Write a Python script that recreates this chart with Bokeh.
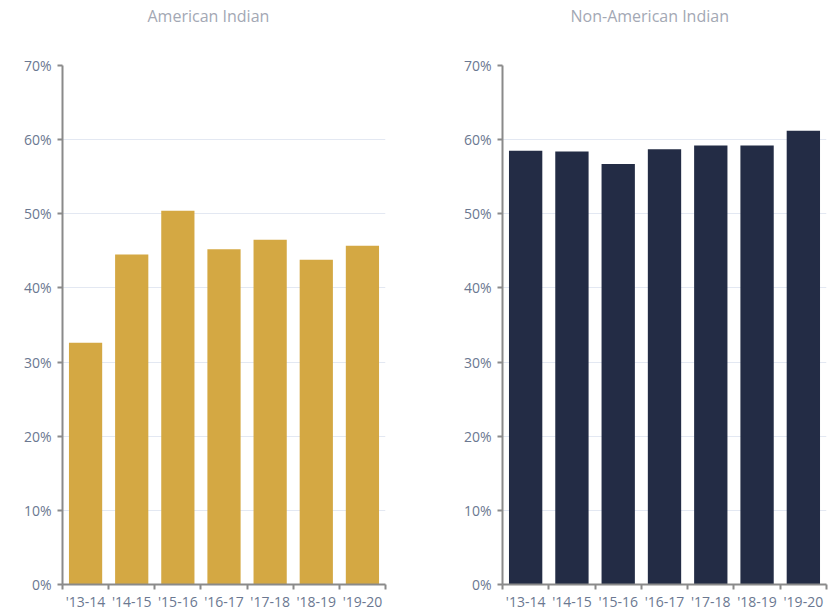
from bokeh.plotting import figure
from bokeh.layouts import row
from bokeh.models import FixedTicker, Range1d, Title
from bokeh.embed import file_html
from bokeh.resources import INLINE

years = ["'13-14", "'14-15", "'15-16", "'16-17", "'17-18", "'18-19", "'19-20"]
american_indian = [32.6, 44.5, 50.4, 45.2, 46.5, 43.8, 45.7]
non_american_indian = [58.5, 58.4, 56.7, 58.7, 59.2, 59.2, 61.2]
y_ticks = [0, 10, 20, 30, 40, 50, 60, 70]

FONT = "Open Sans"
LABEL_COLOR = "#6b7891"
AXIS_COLOR = "#8a8a8a"


def make(title, values, color, width, border_left, border_right, title_offset):
    p = figure(width=width, height=613, output_backend="svg", toolbar_location=None,
               x_range=Range1d(0, len(years)), y_range=Range1d(0, 70),
               min_border_left=border_left, min_border_right=border_right,
               min_border_top=0, min_border_bottom=0)
    spacer = Title(text=" ", text_font_size="1px", standoff=33)
    p.add_layout(spacer, "above")
    t = Title(text=title, align="left", offset=title_offset, text_font=FONT,
              text_font_size="16px", text_font_style="normal", text_color="#a3a8b4",
              standoff=5)
    p.add_layout(t, "above")
    xs = [i + 0.5 for i in range(len(years))]
    p.vbar(x=xs, top=values, width=0.72, color=color, line_color=None)

    p.outline_line_color = None
    p.xgrid.grid_line_color = None
    p.ygrid.grid_line_color = "#e3e8f2"
    p.ygrid.grid_line_width = 1

    p.yaxis.ticker = FixedTicker(ticks=y_ticks)
    p.yaxis.major_label_overrides = {v: f"{v}%" for v in y_ticks}
    p.yaxis.major_tick_out = 5
    p.yaxis.major_tick_in = 0
    p.yaxis.major_label_standoff = 6

    p.xaxis.ticker = FixedTicker(ticks=xs, minor_ticks=list(range(len(years) + 1)))
    p.xaxis.major_label_overrides = {x: y for x, y in zip(xs, years)}
    p.xaxis.major_tick_out = 0
    p.xaxis.major_tick_in = 0
    p.xaxis.minor_tick_out = 5
    p.xaxis.minor_tick_in = 0
    p.xaxis.major_label_standoff = 2

    for ax in (p.xaxis, p.yaxis):
        ax.axis_line_color = AXIS_COLOR
        ax.axis_line_width = 2
        ax.major_tick_line_color = AXIS_COLOR
        ax.major_tick_line_width = 2
        ax.minor_tick_line_color = AXIS_COLOR
        ax.minor_tick_line_width = 2
        ax.major_label_text_font = FONT
        ax.major_label_text_font_size = "14px"
        ax.major_label_text_color = LABEL_COLOR
    p.yaxis.minor_tick_line_color = None
    return p


p1 = make("American Indian", american_indian, "#d4a843", 418, 62, 33, 85)
p2 = make("Non-American Indian", non_american_indian, "#232c45", 411, 84, 3, 68)
layout = row(p1, p2)

open("out.html", "w").write(file_html(layout, INLINE))
